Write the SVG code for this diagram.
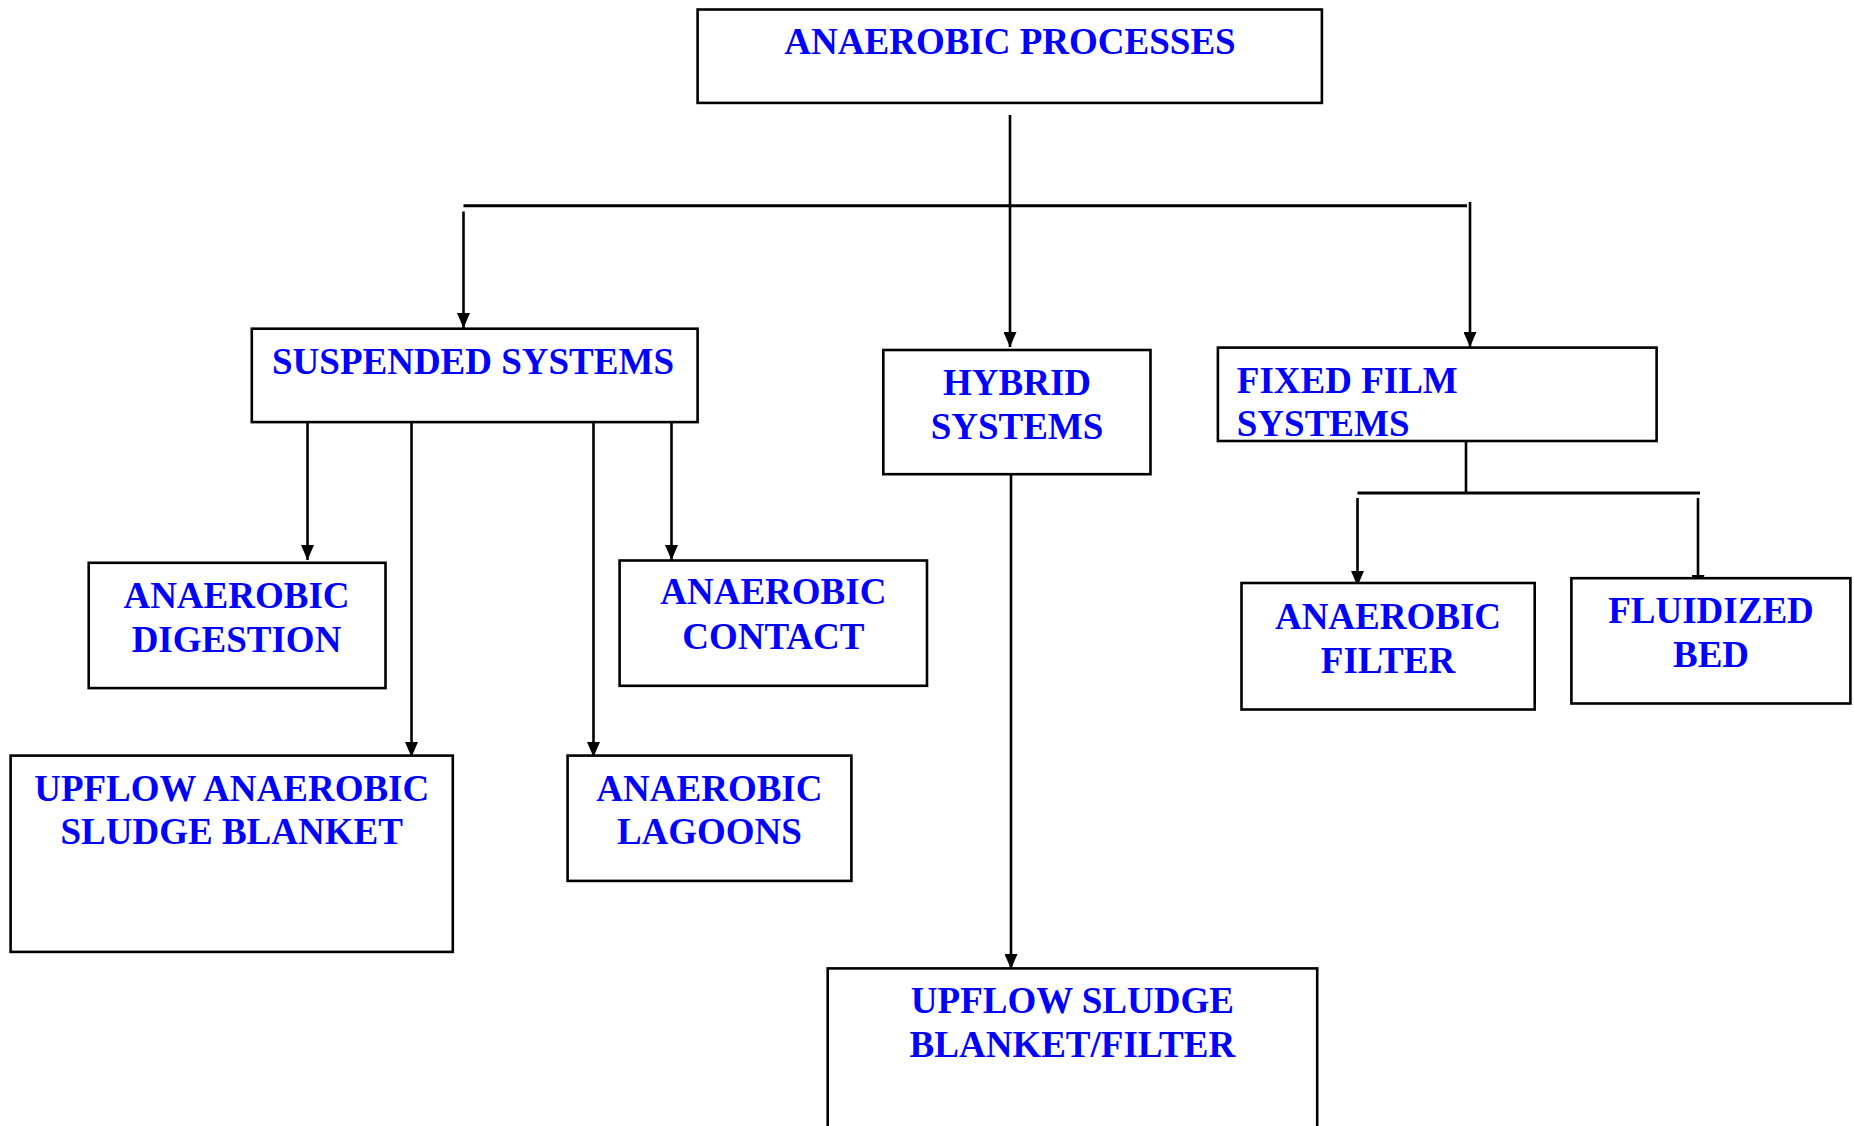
<svg xmlns="http://www.w3.org/2000/svg" width="1854" height="1126" viewBox="0 0 1854 1126">
<style>
.box{fill:#fff;stroke:#000;stroke-width:2.6}
.t{font-family:"Liberation Serif","Times New Roman",serif;font-weight:bold;font-size:37px;fill:#0000ff}
.c{text-anchor:middle}
.ln{stroke:#000;stroke-width:2.6;fill:none}
.hl{stroke:#000;stroke-width:3;fill:none}
</style>
<defs>
<marker id="ah" viewBox="0 0 15 13" refX="15" refY="6.5" markerWidth="15" markerHeight="13" markerUnits="userSpaceOnUse" orient="auto">
<path d="M0,0 L15,6.5 L0,13 z" fill="#000"/>
</marker>
</defs>
<rect x="0" y="0" width="1854" height="1126" fill="#fff"/>
<g id="connectors">
<line class="ln" x1="1010" y1="115" x2="1010" y2="347" marker-end="url(#ah)"/>
<line class="hl" x1="463.5" y1="205.7" x2="1467" y2="205.7"/>
<line class="ln" x1="463.5" y1="211.5" x2="463.5" y2="328" marker-end="url(#ah)"/>
<line class="ln" x1="1470" y1="202" x2="1470" y2="347" marker-end="url(#ah)"/>
<line class="ln" x1="1466" y1="441" x2="1466" y2="493"/>
<line class="hl" x1="1357.5" y1="493" x2="1700" y2="493"/>
<line class="ln" x1="1357.5" y1="498" x2="1357.5" y2="586" marker-end="url(#ah)"/>
<line class="ln" x1="1698" y1="498" x2="1698" y2="590" marker-end="url(#ah)"/>
<line class="ln" x1="1011" y1="474" x2="1011" y2="969" marker-end="url(#ah)"/>
<line class="ln" x1="307.5" y1="422" x2="307.5" y2="560" marker-end="url(#ah)"/>
<line class="ln" x1="411.5" y1="422" x2="411.5" y2="757" marker-end="url(#ah)"/>
<line class="ln" x1="593.5" y1="422" x2="593.5" y2="757" marker-end="url(#ah)"/>
<line class="ln" x1="671.5" y1="422" x2="671.5" y2="560" marker-end="url(#ah)"/>
</g>
<g id="anaerobic-processes">
<rect class="box" x="697.6" y="9.5" width="624.3" height="93.4"/>
<text class="t c" x="1010" y="54.4">ANAEROBIC PROCESSES</text>
</g>
<g id="suspended-systems">
<rect class="box" x="251.8" y="328.7" width="445.8" height="93.4"/>
<text class="t c" x="473" y="373.6">SUSPENDED SYSTEMS</text>
</g>
<g id="hybrid-systems">
<rect class="box" x="883.3" y="350" width="267.2" height="124.2"/>
<text class="t c" x="1017" y="395">HYBRID</text>
<text class="t c" x="1017" y="438.7">SYSTEMS</text>
</g>
<g id="fixed-film-systems">
<rect class="box" x="1217.9" y="347.6" width="438.7" height="93.4"/>
<text class="t" x="1236.8" y="392.6">FIXED FILM</text>
<text class="t" x="1236.8" y="436.3">SYSTEMS</text>
</g>
<g id="anaerobic-filter">
<rect class="box" x="1241.5" y="583" width="293.2" height="126.5"/>
<text class="t c" x="1388" y="629">ANAEROBIC</text>
<text class="t c" x="1388" y="672.8">FILTER</text>
</g>
<g id="fluidized-bed">
<rect class="box" x="1571.4" y="578.2" width="279" height="125.3"/>
<text class="t c" x="1711" y="623">FLUIDIZED</text>
<text class="t c" x="1711" y="666.9">BED</text>
</g>
<g id="upflow-sludge-blanket-filter">
<rect class="box" x="827.7" y="968.4" width="489.5" height="180"/>
<text class="t c" x="1072.4" y="1013.3">UPFLOW SLUDGE</text>
<text class="t c" x="1072.4" y="1057">BLANKET/FILTER</text>
</g>
<g id="anaerobic-digestion">
<rect class="box" x="88.7" y="562.8" width="296.8" height="125.3"/>
<text class="t c" x="236.5" y="607.7">ANAEROBIC</text>
<text class="t c" x="236.5" y="651.5">DIGESTION</text>
</g>
<g id="anaerobic-contact">
<rect class="box" x="619.6" y="560.5" width="307.4" height="125.3"/>
<text class="t c" x="773.3" y="604.2">ANAEROBIC</text>
<text class="t c" x="773.3" y="649.1">CONTACT</text>
</g>
<g id="uasb">
<rect class="box" x="10.6" y="755.6" width="442.2" height="196.3"/>
<text class="t c" x="231.7" y="800.5">UPFLOW ANAEROBIC</text>
<text class="t c" x="231.7" y="844.2">SLUDGE BLANKET</text>
</g>
<g id="anaerobic-lagoons">
<rect class="box" x="567.6" y="755.6" width="283.8" height="125.3"/>
<text class="t c" x="709.4" y="800.5">ANAEROBIC</text>
<text class="t c" x="709.4" y="844.2">LAGOONS</text>
</g>
</svg>
